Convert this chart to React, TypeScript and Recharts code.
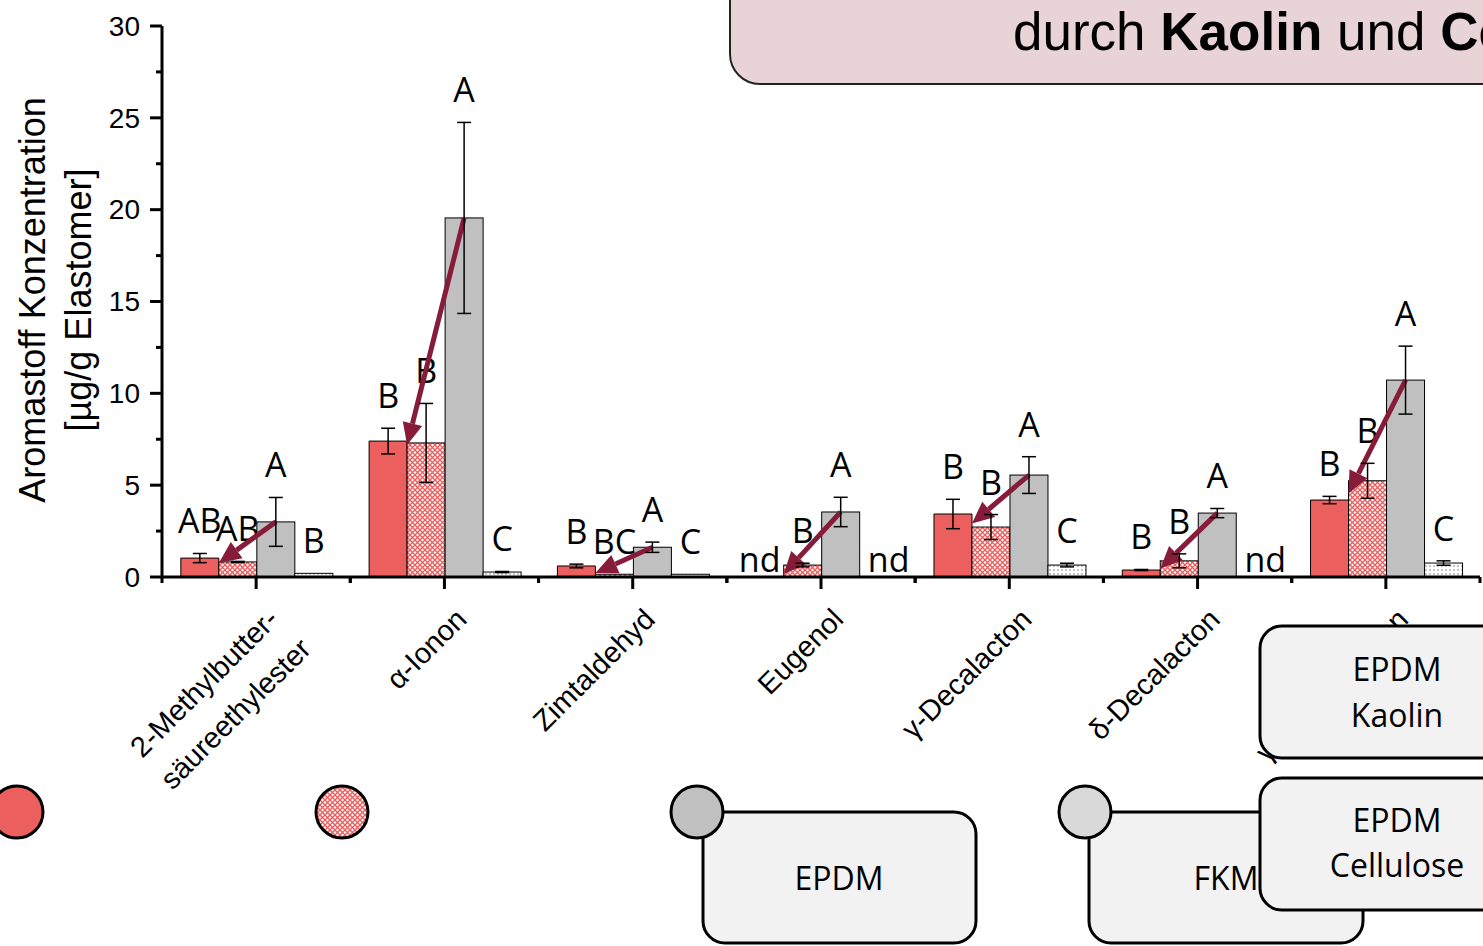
import React from 'react'
import { BarChart, Bar, XAxis, YAxis, ErrorBar } from 'recharts'

// Aromastoff-Konzentration [µg/g Elastomer], Mittelwert und Standardabweichung
const compounds = [
  '2-Methylbutter-\nsäureethylester',
  'α-Ionon',
  'Zimtaldehyd',
  'Eugenol',
  'γ-Decalacton',
  'δ-Decalacton',
  'γ-Dodecalacton',
]

const kaolin = [1.03, 7.4, 0.6, 0, 3.43, 0.38, 4.19]
const kaolinErr = [0.25, 0.7, 0.1, 0, 0.8, 0.03, 0.2]
const cellulose = [0.82, 7.3, 0.15, 0.65, 2.72, 0.88, 5.24]
const celluloseErr = [0.03, 2.15, 0, 0.1, 0.68, 0.38, 0.95]
const epdm = [3.0, 19.55, 1.62, 3.54, 5.55, 3.48, 10.72]
const epdmErr = [1.33, 5.2, 0.28, 0.8, 1.0, 0.25, 1.85]
const fkm = [0.2, 0.27, 0.15, 0, 0.65, 0, 0.76]
const fkmErr = [0, 0.03, 0, 0, 0.1, 0, 0.12]

// Signifikanzbuchstaben
const kaolinLetters = ['AB', 'B', 'B', 'nd', 'B', 'B', 'B']
const celluloseLetters = ['AB', 'B', 'BC', 'B', 'B', 'B', 'B']
const epdmLetters = ['A', 'A', 'A', 'A', 'A', 'A', 'A']
const fkmLetters = ['B', 'C', 'C', 'nd', 'C', 'nd', 'C']

const yTicks = [0, 2.5, 5, 7.5, 10, 12.5, 15, 17.5, 20, 22.5, 25, 27.5, 30]

const data = compounds.map((name, i) => ({
  name,
  kaolin: kaolin[i],
  kaolinErr: kaolinErr[i],
  cellulose: cellulose[i],
  celluloseErr: celluloseErr[i],
  epdm: epdm[i],
  epdmErr: epdmErr[i],
  fkm: fkm[i],
  fkmErr: fkmErr[i],
  letters: [kaolinLetters[i], celluloseLetters[i], epdmLetters[i], fkmLetters[i]],
}))

const W = 1483
const H = 946
const RED = '#ec5f5f'
const GRAY = '#c0c0c0'
const ARROW = '#861c3a'
const SANS = '"Liberation Sans", Arial, sans-serif'
const CAL = '"Open Sans", sans-serif'
const BAND = (W - 162 - 3) / compounds.length

function YTick({ x, y, payload }: any) {
  const major = payload.value % 5 === 0
  return (
    <g>
      <line x1={x - (major ? 12 : 6)} x2={x} y1={y} y2={y} stroke="#000" strokeWidth={3} />
      {major && (
        <text x={x - 22} y={y} dy="0.35em" textAnchor="end" fontSize={28} fontFamily={SANS} fill="#000">
          {payload.value}
        </text>
      )}
    </g>
  )
}

function XTick({ x, y, payload }: any) {
  const lines = String(payload.value).split('\n')
  return (
    <g>
      <line x1={x} x2={x} y1={y} y2={y + 12} stroke="#000" strokeWidth={3} />
      <line x1={x - BAND / 2} x2={x - BAND / 2} y1={y} y2={y + 6} stroke="#000" strokeWidth={3} />
      <line x1={x + BAND / 2} x2={x + BAND / 2} y1={y} y2={y + 6} stroke="#000" strokeWidth={3} />
      <g transform={`translate(${x + 24},${y + 44}) rotate(-45)`}>
        <text textAnchor="end" fontSize={29} fontFamily={SANS} fill="#000">
          {lines.map((l, i) => (
            <tspan key={i} x={i ? 2 : 0} dy={i ? 44 : 0}>{l}</tspan>
          ))}
        </text>
      </g>
    </g>
  )
}

const HatchShape = (props: any) =>
  props.height > 0 ? (
    <rect x={props.x} y={props.y} width={props.width} height={props.height} fill="url(#hatchRed)" stroke="#000" strokeWidth={1} />
  ) : null

const DotShape = (props: any) =>
  props.height > 0 ? (
    <rect x={props.x} y={props.y} width={props.width} height={props.height} fill="url(#dotGray)" stroke="#000" strokeWidth={1} />
  ) : null

// grauer Balken, Buchstaben der ganzen Gruppe und Pfeil auf die Füllstoff-Varianten
function EpdmShape(props: any) {
  const { x, y, width, height, payload } = props
  if (!(height > 0)) return null
  const ppu = height / payload.epdm
  const base = y + height
  const vals = [payload.kaolin, payload.cellulose, payload.epdm, payload.fkm]
  const errs = [payload.kaolinErr, payload.celluloseErr, payload.epdmErr, payload.fkmErr]
  const letters: string[] = payload.letters

  const x1 = x + width / 2
  const y1 = y
  const x2 = x - width
  const y2 = base - ((payload.kaolin + payload.cellulose) / 2) * ppu + 3
  const ang = Math.atan2(y2 - y1, x2 - x1)
  const head = 22
  const hw = 10
  const bx = x2 - head * Math.cos(ang)
  const by = y2 - head * Math.sin(ang)
  const px = -Math.sin(ang) * hw
  const py = Math.cos(ang) * hw
  return (
    <g>
      <rect x={x} y={y} width={width} height={height} fill={GRAY} stroke="#000" strokeWidth={1} />
      {letters.map((l, k) => {
        const cx = x + width / 2 + (k - 2) * width
        const nd = !(vals[k] > 0)
        const ly = nd ? base - 5 : base - (vals[k] + errs[k]) * ppu - 20
        const lx = nd ? cx + (k < 2 ? -5 : 10) : cx
        return (
          <text key={k} x={lx} y={ly} textAnchor="middle" fontSize={34} fontFamily={CAL} fill="#000">
            {l}
          </text>
        )
      })}
      <line x1={x1} y1={y1} x2={bx} y2={by} stroke={ARROW} strokeWidth={5} />
      <polygon points={`${x2},${y2} ${bx + px},${by + py} ${bx - px},${by - py}`} fill={ARROW} />
    </g>
  )
}

function Overlay() {
  return (
    <svg width={W} height={H} style={{ position: 'absolute', left: 0, top: 0, pointerEvents: 'none' }}>
      <defs>
        <pattern id="hatchRed2" width="5" height="5" patternUnits="userSpaceOnUse">
          <rect width="5" height="5" fill="#fff" />
          <path d="M0,0 L5,5 M5,0 L0,5" stroke={RED} strokeWidth={1.4} />
        </pattern>
      </defs>

      {/* Achsentitel */}
      <text transform="translate(45,300) rotate(-90)" textAnchor="middle" fontSize={36} fontFamily={SANS} fill="#000">
        Aromastoff Konzentration
      </text>
      <text transform="translate(91,300) rotate(-90)" textAnchor="middle" fontSize={36} fontFamily={SANS} fill="#000">
        [µg/g Elastomer]
      </text>

      {/* Kopfzeile */}
      <rect x={730} y={-60} width={820} height={144} rx={30} fill="#e8d3d6" stroke="#222" strokeWidth={2} />
      <text x={1013} y={50} fontSize={53} fontFamily={SANS} fill="#000">
        durch{' '}<tspan fontWeight="bold">Kaolin</tspan>{' '}und{' '}<tspan fontWeight="bold">Cellulose</tspan>
      </text>

      {/* Legende */}
      <circle cx={17} cy={812} r={26} fill={RED} stroke="#000" strokeWidth={3} />
      <circle cx={342} cy={812} r={26} fill="url(#hatchRed2)" stroke="#000" strokeWidth={3} />

      <rect x={703} y={812} width={273} height={131} rx={22} fill="#f2f2f2" stroke="#000" strokeWidth={3} />
      <circle cx={697} cy={812} r={26} fill={GRAY} stroke="#000" strokeWidth={3} />
      <text x={839} y={890} textAnchor="middle" fontSize={32} fontFamily={CAL} fill="#000">EPDM</text>

      <rect x={1089} y={812} width={274} height={131} rx={22} fill="#f2f2f2" stroke="#000" strokeWidth={3} />
      <circle cx={1085} cy={812} r={26} fill="#d9d9d9" stroke="#000" strokeWidth={3} />
      <text x={1226} y={890} textAnchor="middle" fontSize={32} fontFamily={CAL} fill="#000">FKM</text>

      <rect x={1260} y={626} width={300} height={132} rx={22} fill="#f2f2f2" stroke="#000" strokeWidth={3} />
      <text x={1397} y={681} textAnchor="middle" fontSize={32} fontFamily={CAL} fill="#000">EPDM</text>
      <text x={1397} y={727} textAnchor="middle" fontSize={32} fontFamily={CAL} fill="#000">Kaolin</text>

      <rect x={1260} y={778} width={300} height={132} rx={22} fill="#f2f2f2" stroke="#000" strokeWidth={3} />
      <text x={1397} y={832} textAnchor="middle" fontSize={32} fontFamily={CAL} fill="#000">EPDM</text>
      <text x={1397} y={877} textAnchor="middle" fontSize={32} fontFamily={CAL} fill="#000">Cellulose</text>
    </svg>
  )
}

export default function App() {
  return (
    <div style={{ position: 'fixed', left: 0, top: 0, width: W, height: H, overflow: 'hidden', background: '#fff' }}>
      <BarChart
        width={W}
        height={H}
        data={data}
        margin={{ top: 26, right: 3, left: 0, bottom: 0 }}
        barCategoryGap="10%"
        barGap={0}
      >
        <defs>
          <pattern id="hatchRed" width="5" height="5" patternUnits="userSpaceOnUse">
            <rect width="5" height="5" fill="#fff" />
            <path d="M0,0 L5,5 M5,0 L0,5" stroke={RED} strokeWidth={1.4} />
          </pattern>
          <pattern id="dotGray" width="4" height="4" patternUnits="userSpaceOnUse">
            <rect width="4" height="4" fill="#fff" />
            <circle cx="2" cy="2" r="1" fill="#b0b0b0" />
          </pattern>
        </defs>
        <YAxis
          width={162}
          domain={[0, 30]}
          ticks={yTicks}
          interval={0}
          tickSize={0}
          tickMargin={0}
          tickLine={false}
          axisLine={{ stroke: '#000', strokeWidth: 3 }}
          tick={<YTick />}
        />
        <XAxis
          dataKey="name"
          height={369}
          interval={0}
          tickSize={0}
          tickMargin={0}
          tickLine={false}
          axisLine={{ stroke: '#000', strokeWidth: 3 }}
          tick={<XTick />}
        />
        <Bar dataKey="kaolin" fill={RED} stroke="#000" strokeWidth={1} isAnimationActive={false}>
          <ErrorBar dataKey="kaolinErr" width={7} stroke="#000" strokeWidth={1.5} />
        </Bar>
        <Bar dataKey="cellulose" shape={<HatchShape />} isAnimationActive={false}>
          <ErrorBar dataKey="celluloseErr" width={7} stroke="#000" strokeWidth={1.5} />
        </Bar>
        <Bar dataKey="epdm" shape={<EpdmShape />} isAnimationActive={false}>
          <ErrorBar dataKey="epdmErr" width={7} stroke="#000" strokeWidth={1.5} />
        </Bar>
        <Bar dataKey="fkm" shape={<DotShape />} isAnimationActive={false}>
          <ErrorBar dataKey="fkmErr" width={7} stroke="#000" strokeWidth={1.5} />
        </Bar>
      </BarChart>
      <Overlay />
    </div>
  )
}
